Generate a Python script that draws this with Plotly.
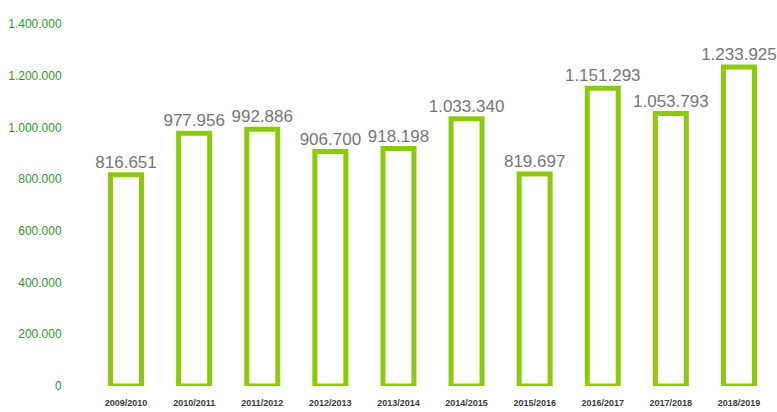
import plotly.graph_objects as go

seasons = ["2009/2010", "2010/2011", "2011/2012", "2012/2013", "2013/2014",
           "2014/2015", "2015/2016", "2016/2017", "2017/2018", "2018/2019"]
values = [816651, 977956, 992886, 906700, 918198, 1033340, 819697, 1151293, 1053793, 1233925]
y_ticks = [0, 200000, 400000, 600000, 800000, 1000000, 1200000, 1400000]

fig = go.Figure(go.Bar(
    x=seasons, y=values,
    width=0.455,
    marker=dict(color="white", line=dict(color="#8cc90a", width=5)),
    texttemplate="%{y:,d}", textposition="outside",
    constraintext="none",
    textfont=dict(family="Liberation Sans, Arial", size=17, color="#767676"),
    cliponaxis=False,
))

fig.update_layout(
    width=777, height=412,
    margin=dict(l=92, r=4, t=24, b=19),
    paper_bgcolor="white", plot_bgcolor="white",
    separators=",.",
    showlegend=False,
    xaxis=dict(showgrid=False, showline=False, zeroline=False,
               tickfont=dict(family="Liberation Sans, Arial", size=9, color="#3a3a3a", weight="bold"),
               ticks="outside", ticklen=8, tickcolor="rgba(0,0,0,0)"),
    yaxis=dict(range=[0, 1400000], tickvals=y_ticks, tickformat=",d",
               showgrid=False, showline=False, zeroline=False,
               tickfont=dict(family="Liberation Sans, Arial", size=12, color="#2e9a2e"),
               ticks="outside", ticklen=27, tickcolor="rgba(0,0,0,0)"),
)

fig.write_html("out.html", config={"displayModeBar": False},
               post_script="document.body.style.margin='0';")
